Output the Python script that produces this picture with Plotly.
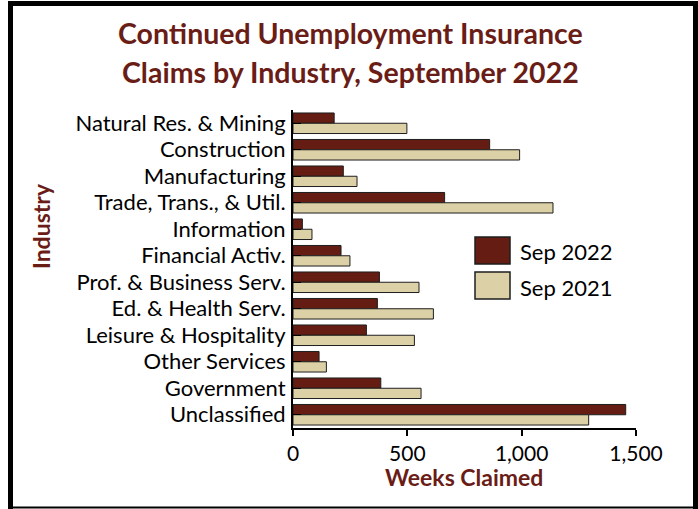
import plotly.graph_objects as go

# Industry categories, top to bottom
industries = [
    "Natural Res. & Mining", "Construction", "Manufacturing",
    "Trade, Trans., & Util.", "Information", "Financial Activ.",
    "Prof. & Business Serv.", "Ed. & Health Serv.", "Leisure & Hospitality",
    "Other Services", "Government", "Unclassified",
]
# Weeks claimed
sep_2022 = [180, 860, 220, 663, 41, 210, 378, 369, 321, 114, 384, 1455]
sep_2021 = [498, 991, 280, 1137, 83, 249, 551, 614, 531, 146, 560, 1293]

x_ticks = [0, 500, 1000, 1500]
x_tick_labels = ["0", "500", "1,000", "1,500"]

FONT = "Lato"
MAROON = "#6a1d16"
C2022 = "#641c13"
C2021 = "#dcd0a6"
OUTLINE = "#1e1e1e"

fig = go.Figure()
fig.add_trace(go.Bar(y=industries, x=sep_2022, orientation="h", name="Sep 2022",
                     marker=dict(color=C2022, line=dict(color=OUTLINE, width=1))))
fig.add_trace(go.Bar(y=industries, x=sep_2021, orientation="h", name="Sep 2021",
                     marker=dict(color=C2021, line=dict(color=OUTLINE, width=1))))

W, H = 698, 509
L, R, T, B = 293, 62, 110, 81
pw, ph = W - L - R, H - T - B


def px(x):
    return (x - L) / pw


def py(y):
    return 1 - (y - T) / ph


shapes = []
# outer frame
frame = dict(type="line", xref="paper", yref="paper", line=dict(color="black", width=5))
shapes.append({**frame, "x0": px(10.5), "x1": px(10.5), "y0": py(1), "y1": py(509)})
shapes.append({**frame, "x0": px(8), "x1": px(698), "y0": py(3.5), "y1": py(3.5)})
shapes.append({**frame, "x0": px(695.5), "x1": px(695.5), "y0": py(1), "y1": py(509)})
shapes.append({**frame, "x0": px(8), "x1": px(698), "y0": py(507.5), "y1": py(507.5),
               "line": dict(color="black", width=2)})

# legend swatches
for (y0, y1, col) in [(237, 264, C2022), (272, 299, C2021)]:
    shapes.append(dict(type="rect", xref="paper", yref="paper",
                       x0=px(475), x1=px(510), y0=py(y1), y1=py(y0),
                       fillcolor=col, line=dict(color=OUTLINE, width=1.5)))

annotations = [
    dict(text="Continued Unemployment Insurance", xref="paper", yref="paper",
         x=px(350), y=py(33), showarrow=False, xanchor="center", yanchor="middle",
         font=dict(family=FONT, size=28.5, color=MAROON, weight="bold")),
    dict(text="Claims by Industry, September 2022", xref="paper", yref="paper",
         x=px(350), y=py(72), showarrow=False, xanchor="center", yanchor="middle",
         font=dict(family=FONT, size=28.5, color=MAROON, weight="bold")),
    dict(text="Sep 2022", xref="paper", yref="paper", x=px(518), y=py(251),
         showarrow=False, xanchor="left", yanchor="middle",
         font=dict(family=FONT, size=22, color="black")),
    dict(text="Sep 2021", xref="paper", yref="paper", x=px(518), y=py(287),
         showarrow=False, xanchor="left", yanchor="middle",
         font=dict(family=FONT, size=22, color="black")),
    dict(text="Industry", xref="paper", yref="paper", x=px(41), y=py(226),
         showarrow=False, xanchor="center", yanchor="middle", textangle=-90,
         font=dict(family=FONT, size=23, color=MAROON, weight="bold")),
    dict(text="Weeks Claimed", xref="paper", yref="paper", x=px(464), y=py(477),
         showarrow=False, xanchor="center", yanchor="middle",
         font=dict(family=FONT, size=23, color=MAROON, weight="bold")),
]

fig.update_layout(
    width=W, height=H,
    margin=dict(l=L, r=R, t=T, b=B, pad=0),
    paper_bgcolor="white", plot_bgcolor="white",
    barmode="group", bargap=0.225, bargroupgap=0,
    showlegend=False,
    shapes=shapes, annotations=annotations,
    font=dict(family=FONT, color="black"),
)
fig.update_xaxes(range=[0, 1500], tickvals=x_ticks, ticktext=x_tick_labels,
                 showgrid=False, zeroline=False, showline=True, linecolor="black",
                 linewidth=2, ticks="outside", ticklen=6, tickwidth=2, tickcolor="black",
                 tickfont=dict(family=FONT, size=21, color="black"))
fig.update_yaxes(autorange="reversed", showgrid=False, zeroline=False, showline=True,
                 linecolor="black", linewidth=2, ticks="inside", ticklen=8, tickwidth=1,
                 tickcolor="black", ticklabelstandoff=1,
                 tickfont=dict(family=FONT, size=22, color="black"))

fig.write_html("out.html")
